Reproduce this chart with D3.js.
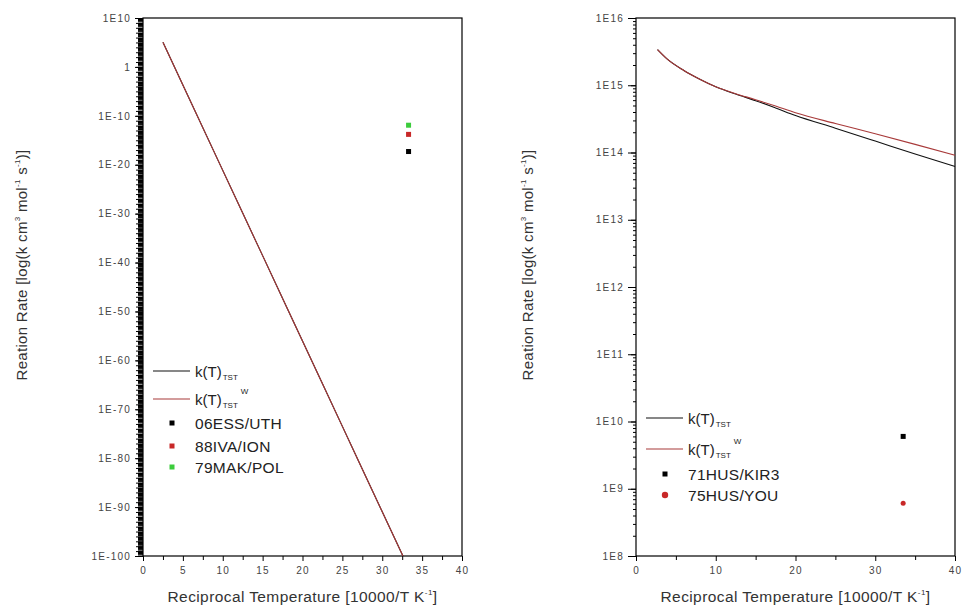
<!DOCTYPE html>
<html><head><meta charset="utf-8">
<script src="https://cdn.jsdelivr.net/npm/d3@7/dist/d3.min.js"></script>
<style>
html,body{margin:0;padding:0;background:#fff;}
svg{display:block;font-family:"Liberation Sans",Arial,sans-serif;}
</style></head>
<body><svg id="c" width="963" height="611"></svg>
<script>
// ---- data ----
const leftX = [2.5, 5, 10, 15, 20, 25, 30, 32.6];
const leftTST = [1.1e5, 2e-4, 7e-22, 2.6e-39, 9e-57, 3.2e-74, 1.1e-91, 1e-100];
const leftTSTW = [1.1e5, 2e-4, 7e-22, 2.6e-39, 9e-57, 3.2e-74, 1.1e-91, 1e-100];
const leftPointNames = ["06ESS/UTH", "88IVA/ION", "79MAK/POL"];
const leftPointX = [33.3, 33.3, 33.3];
const leftPointY = [5e-18, 1.6e-14, 1.2e-12];
const leftYTickVals = [1e10, 1, 1e-10, 1e-20, 1e-30, 1e-40, 1e-50, 1e-60, 1e-70, 1e-80, 1e-90, 1e-100];
const leftYTickLabels = ["1E10", "1", "1E-10", "1E-20", "1E-30", "1E-40", "1E-50", "1E-60", "1E-70", "1E-80", "1E-90", "1E-100"];
const leftXTicks = [0, 5, 10, 15, 20, 25, 30, 35, 40];

const rightX = [2.7, 4, 6, 8, 10, 12.5, 15, 17.5, 20, 25, 30, 35, 40];
const rightTST = [3.39e15, 2.4e15, 1.66e15, 1.23e15, 9.5e14, 7.4e14, 5.9e14, 4.6e14, 3.55e14, 2.3e14, 1.48e14, 9.5e13, 6.2e13];
const rightTSTW = [3.39e15, 2.4e15, 1.66e15, 1.23e15, 9.5e14, 7.5e14, 6.1e14, 4.9e14, 3.9e14, 2.7e14, 1.9e14, 1.32e14, 9.1e13];
const rightPointNames = ["71HUS/KIR3", "75HUS/YOU"];
const rightPointX = [33.5, 33.5];
const rightPointY = [6.0e9, 6.1e8];
const rightYTickVals = [1e16, 1e15, 1e14, 1e13, 1e12, 1e11, 1e10, 1e9, 1e8];
const rightYTickLabels = ["1E16", "1E15", "1E14", "1E13", "1E12", "1E11", "1E10", "1E9", "1E8"];
const rightXTicks = [0, 10, 20, 30, 40];

const BLACK = "#111", RED = "#a83a3a";

const svg = d3.select("#c");

function minorLog(lo, hi) {
  const out = [];
  for (let e = lo; e < hi; e++) for (let m = 2; m <= 9; m++) out.push(m * Math.pow(10, e));
  return out;
}
function decades(lo, hi) { return d3.range(lo, hi + 1).map(e => Math.pow(10, e)); }

function panel(o) {
  const g = svg.append("g");
  const x = d3.scaleLinear().domain([0, 40]).range([o.x0, o.x1]);
  const y = d3.scaleLog().domain(o.ydom).range([o.y1, o.y0]);

  // minor y ticks
  g.append("g").attr("transform", `translate(${o.x0},0)`)
    .call(d3.axisLeft(y).tickValues(o.minor).tickSize(o.minorLen).tickFormat(""))
    .call(a => a.select(".domain").remove());
  g.append("g").attr("transform", `translate(${o.x0},0)`)
    .call(d3.axisLeft(y).tickValues(o.decade).tickSize(o.minorLen + 2).tickFormat(""))
    .call(a => a.select(".domain").remove());
  const ya = g.append("g").attr("transform", `translate(${o.x0},0)`)
    .call(d3.axisLeft(y).tickValues(o.yTicks).tickSize(8).tickPadding(4)
      .tickFormat((d, i) => o.yLabels[i]));
  ya.select(".domain").remove();
  ya.selectAll("text").attr("font-size", 10).attr("letter-spacing", 1.2).attr("fill", "#444")
    .attr("font-family", "Liberation Sans, Arial, sans-serif");

  // x axis
  const xa = g.append("g").attr("transform", `translate(0,${o.y1})`)
    .call(d3.axisBottom(x).tickValues(o.xMinor).tickSize(4).tickFormat(""));
  xa.select(".domain").remove();
  const xb = g.append("g").attr("transform", `translate(0,${o.y1})`)
    .call(d3.axisBottom(x).tickValues(o.xTicks).tickSize(5).tickPadding(6));
  xb.select(".domain").remove();
  xb.selectAll("text").attr("font-size", 10).attr("letter-spacing", 1.2).attr("fill", "#444")
    .attr("font-family", "Liberation Sans, Arial, sans-serif");
  g.selectAll(".tick line").attr("stroke", "#000");

  // frame
  g.append("rect").attr("x", o.x0).attr("y", o.y0).attr("width", o.x1 - o.x0).attr("height", o.y1 - o.y0)
    .attr("fill", "none").attr("stroke", "#000").attr("stroke-width", 1.2);

  const line = d3.line().x((d, i) => x(o.lx[i])).y(d => y(d)).curve(d3.curveMonotoneX);
  g.append("path").attr("d", line(o.l1)).attr("fill", "none").attr("stroke", BLACK).attr("stroke-width", 1.1);
  g.append("path").attr("d", line(o.l2)).attr("fill", "none").attr("stroke", RED).attr("stroke-width", 1.1);

  // points
  o.pts.forEach((p, i) => {
    if (p.shape === "circle") {
      g.append("circle").attr("cx", x(o.px[i])).attr("cy", y(o.py[i])).attr("r", 2.5).attr("fill", p.color);
    } else {
      g.append("rect").attr("x", x(o.px[i]) - 2.5).attr("y", y(o.py[i]) - 2.5).attr("width", 5).attr("height", 5).attr("fill", p.color);
    }
  });

  // legend
  const L = o.leg;
  const lg = g.append("g").attr("font-size", 15).attr("fill", "#222");
  lg.append("line").attr("x1", L.x).attr("x2", L.x + 37).attr("y1", L.y1).attr("y2", L.y1).attr("stroke", BLACK).attr("stroke-width", 1.2);
  const t1 = lg.append("text").attr("x", L.x + 42).attr("y", L.y1 + 6);
  t1.append("tspan").text("k(T)");
  t1.append("tspan").attr("font-size", 8).attr("dy", 3).attr("dx", 1).text("TST");
  lg.append("line").attr("x1", L.x).attr("x2", L.x + 37).attr("y1", L.y2).attr("y2", L.y2).attr("stroke", RED).attr("stroke-width", 1.2);
  const t2 = lg.append("text").attr("x", L.x + 42).attr("y", L.y2 + 6);
  t2.append("tspan").text("k(T)");
  t2.append("tspan").attr("font-size", 8).attr("dy", 3).attr("dx", 1).text("TST");
  t2.append("tspan").attr("font-size", 8).attr("dy", -14).attr("dx", 3).text("W");
  o.pts.forEach((p, i) => {
    const yy = L.ys[i];
    if (p.shape === "circle") lg.append("circle").attr("cx", L.x + 19).attr("cy", yy).attr("r", 3.2).attr("fill", p.color);
    else lg.append("rect").attr("x", L.x + 16.5).attr("y", yy - 2.5).attr("width", 5).attr("height", 5).attr("fill", p.color);
    lg.append("text").attr("x", L.x + 42).attr("y", yy + 6).attr("font-size", 15.5).attr("letter-spacing", 0.3).text(o.names[i]);
  });

  // axis titles
  const xt = g.append("text").attr("x", (o.x0 + o.x1) / 2).attr("y", 602).attr("text-anchor", "middle")
    .attr("font-size", 15.5).attr("letter-spacing", 0.4).attr("fill", "#333");
  xt.append("tspan").text("Reciprocal Temperature [10000/T K");
  xt.append("tspan").attr("font-size", 8).attr("dy", -7).text("-1");
  xt.append("tspan").attr("dy", 7).text("]");

  const yt = g.append("text").attr("transform", `translate(${o.tx},265) rotate(-90)`).attr("text-anchor", "middle")
    .attr("font-size", 15).attr("letter-spacing", 0.3).attr("fill", "#333");
  yt.append("tspan").text("Reation Rate [log(k cm");
  yt.append("tspan").attr("font-size", 8).attr("dy", -7).text("3");
  yt.append("tspan").attr("dy", 7).text(" mol");
  yt.append("tspan").attr("font-size", 8).attr("dy", -7).text("-1");
  yt.append("tspan").attr("dy", 7).text(" s");
  yt.append("tspan").attr("font-size", 8).attr("dy", -7).text("-1");
  yt.append("tspan").attr("dy", 7).text(")]");
}

panel({
  x0: 143, x1: 462, y0: 18, y1: 556, ydom: [1e-100, 1e10],
  minor: minorLog(-100, 10), decade: decades(-100, 10), minorLen: 5,
  yTicks: leftYTickVals, yLabels: leftYTickLabels,
  xTicks: leftXTicks, xMinor: d3.range(2.5, 40, 5),
  lx: leftX, l1: leftTST, l2: leftTSTW,
  px: leftPointX, py: leftPointY, names: leftPointNames,
  pts: [{ color: "#000" }, { color: "#c82828" }, { color: "#3ccc3c" }],
  leg: { x: 153, y1: 371, y2: 399, ys: [423, 446, 467] },
  tx: 27
});
panel({
  x0: 636, x1: 955, y0: 18, y1: 556, ydom: [1e8, 1e16],
  minor: minorLog(8, 16), decade: decades(8, 16), minorLen: 3,
  yTicks: rightYTickVals, yLabels: rightYTickLabels,
  xTicks: rightXTicks, xMinor: [5, 15, 25, 35],
  lx: rightX, l1: rightTST, l2: rightTSTW,
  px: rightPointX, py: rightPointY, names: rightPointNames,
  pts: [{ color: "#000" }, { color: "#c82828", shape: "circle" }],
  leg: { x: 646, y1: 418, y2: 449, ys: [474, 495] },
  tx: 533
});
</script></body></html>
